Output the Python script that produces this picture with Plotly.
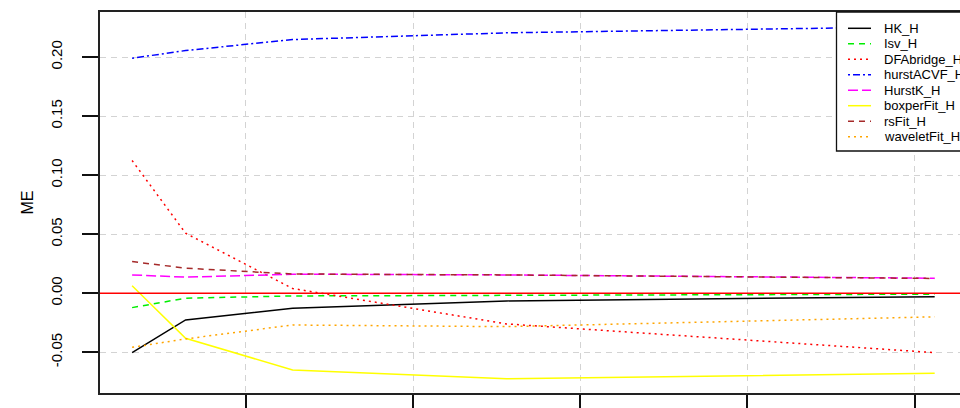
import plotly.graph_objects as go

# Sample sizes and mean error of each Hurst estimator
sizes = [128, 256, 512, 1024, 2048]

hk_h = [-0.0503, -0.0226, -0.0127, -0.0065, -0.0029]
isv_h = [-0.0122, -0.0042, -0.0023, -0.0020, -0.0008]
dfabridge_h = [0.1124, 0.0508, 0.0040, -0.0260, -0.0503]
hurstacvf_h = [0.1990, 0.2055, 0.2148, 0.2205, 0.2258]
hurstk_h = [0.0155, 0.0136, 0.0161, 0.0155, 0.0127]
boxperfit_h = [0.0064, -0.0381, -0.0650, -0.0725, -0.0678]
rsfit_h = [0.0268, 0.0212, 0.0163, 0.0155, 0.0125]
waveletfit_h = [-0.0458, -0.0387, -0.0269, -0.0283, -0.0200]

series_names = ["HK_H", "Isv_H", "DFAbridge_H", "hurstACVF_H", "HurstK_H",
                "boxperFit_H", "rsFit_H", "waveletFit_H"]
series_values = [hk_h, isv_h, dfabridge_h, hurstacvf_h, hurstk_h,
                 boxperfit_h, rsfit_h, waveletfit_h]

y_ticks = [-0.05, 0.00, 0.05, 0.10, 0.15, 0.20]
y_tick_labels = ["-0.05", "0.00", "0.05", "0.10", "0.15", "0.20"]
x_ticks = [400, 800, 1200, 1600, 2000]
reference_level = 0.0

colors = ["#000000", "#00EE00", "#FF0000", "#0000FF", "#FF00FF",
          "#FFFF00", "#A52A2A", "#FFA500"]
dashes = ["solid", "6px,5px", "2px,4px", "2px,3px,7px,3px", "10px,4px",
          "solid", "6px,5px", "2px,4px"]

FONT = "Liberation Sans, Arial, sans-serif"
W, H = 960, 408
ML, MR, MT, MB = 100, 0, 12, 15

fig = go.Figure()
for name, vals, col, dsh in zip(series_names, series_values, colors, dashes):
    fig.add_trace(go.Scatter(
        x=sizes, y=vals, mode="lines", name=name,
        line=dict(color=col, width=1.5, dash=dsh),
        showlegend=False,
    ))

# horizontal reference line at zero error
fig.add_hline(y=reference_level, line=dict(color="#FF0000", width=1.5),
              layer="above")

fig.update_layout(
    width=W, height=H,
    margin=dict(l=ML, r=MR, t=MT, b=MB, autoexpand=False),
    paper_bgcolor="white", plot_bgcolor="white",
    font=dict(family=FONT, size=13, color="black"),
    xaxis=dict(
        range=[51.2, 2108.6], tickvals=x_ticks, showticklabels=False,
        ticks="outside", ticklen=15, tickwidth=1.5, tickcolor="#111",
        showline=True, linecolor="#222", linewidth=1.5, mirror=True,
        showgrid=True, gridcolor="#D3D3D3", gridwidth=1.2, griddash="6px,5px",
        zeroline=False,
    ),
    yaxis=dict(
        range=[-0.08449, 0.23814], tickvals=y_ticks, ticktext=y_tick_labels,
        tickangle=-90, tickfont=dict(size=15, color="black"),
        ticklabelstandoff=14,
        ticks="outside", ticklen=16, tickwidth=1.5, tickcolor="#111",
        showline=True, linecolor="#222", linewidth=1.5, mirror=False,
        showgrid=True, gridcolor="#D3D3D3", gridwidth=1.2, griddash="6px,5px",
        zeroline=False,
        title=dict(text="ME", font=dict(size=16, color="black"), standoff=11),
    ),
)

# Legend box in the top right corner of the plot region
plot_w = W - ML - MR
plot_h = H - MT - MB


def px_x(p):
    return (p - ML) / plot_w


def px_y(p):
    return (H - MB - p) / plot_h


fig.add_shape(type="rect", xref="paper", yref="paper",
              x0=px_x(836.5), x1=px_x(1000), y0=px_y(151), y1=1.0,
              line=dict(color="#111", width=1.3), fillcolor="white",
              layer="above")

row0, row_step = 28.3, 15.48
for i, (name, col, dsh) in enumerate(zip(series_names, colors, dashes)):
    yy = px_y(row0 + i * row_step)
    fig.add_shape(type="line", xref="paper", yref="paper",
                  x0=px_x(848), x1=px_x(871), y0=yy, y1=yy,
                  line=dict(color=col, width=1.5, dash=dsh), layer="above")
    fig.add_annotation(xref="paper", yref="paper", x=px_x(882), y=yy,
                       text=name, showarrow=False, xanchor="left",
                       yanchor="middle", font=dict(size=13, color="black"))

fig.write_html("out.html")
